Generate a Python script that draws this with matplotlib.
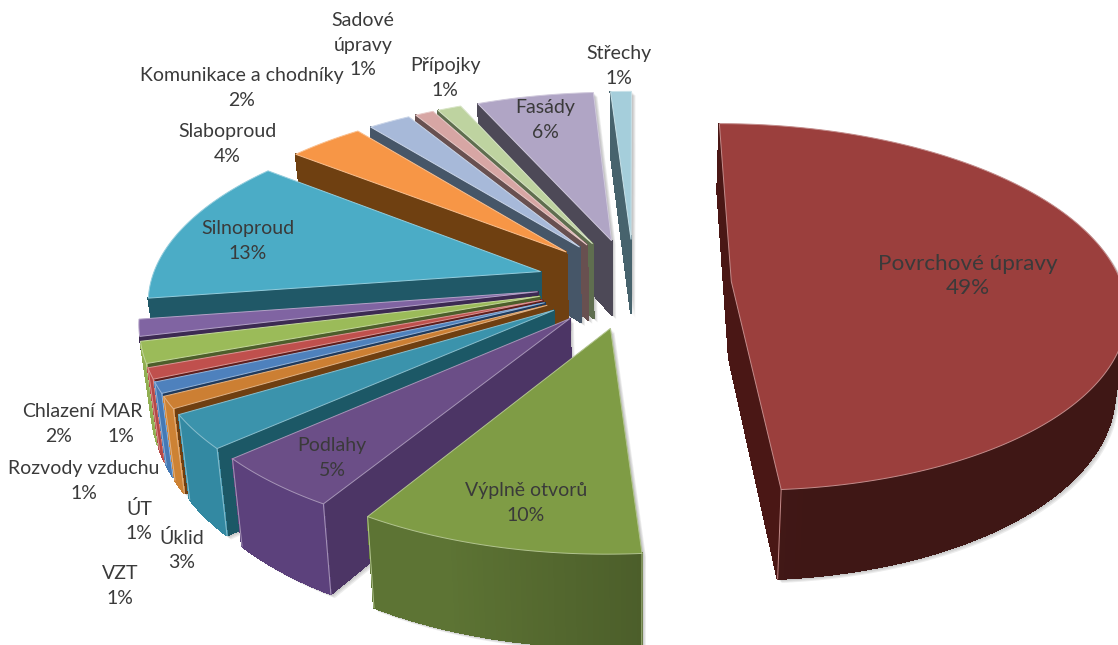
import numpy as np
import matplotlib
matplotlib.use("Agg")
import matplotlib.pyplot as plt
from matplotlib.patches import Polygon
from matplotlib.colors import to_rgb

# Cost shares in percent, clockwise from the top of the pie
names = ["Povrchové úpravy", "Výplně otvorů", "Podlahy", "Úklid", "VZT", "ÚT",
         "Rozvody vzduchu", "Chlazení", "MAR", "Silnoproud", "Slaboproud",
         "Komunikace a chodníky", "Sadové\núpravy", "Přípojky", "Fasády", "Střechy"]
shares = [48.8, 9.9, 4.7, 3.0, 1.05, 0.95, 0.95, 1.85, 1.45, 12.95, 3.65, 2.05, 0.9, 1.15, 5.65, 1.0]

top_colors = ["#9B3F3D", "#7F9C45", "#6B4E87", "#3B93AC", "#CC7F33", "#4E81BD", "#C0504D",
              "#9BBB59", "#8064A2", "#4BACC6", "#F79646", "#A7B9D9", "#D7A6A4", "#BED3A0",
              "#B0A5C5", "#A5CEDB"]
wall_colors = ["#4A1B19", "#566B30", "#553C73", "#2F7F96", "#BE7830", "#4070A8", "#A84340",
               "#86A24C", "#6E5590", "#3B8BA0", "#C87A38", "#8A9AB8", "#B08A88", "#9CAE84",
               "#928AA4", "#88AAB6"]
side_colors = ["#4A1715", "#4A5A28", "#4C3565", "#1C5866", "#6F3F11", "#1F3A5C", "#5F1E1C",
               "#4D5E2B", "#3C2A52", "#205867", "#6F4011", "#465668", "#685050", "#5F6E4F",
               "#4D4957", "#47636D"]

# Projection of the exploded pie
CX, CY = 634.0, 283.0
SCALE, TILT, PERSP = 390.0, 0.462, 0.14
THICK, CONVERGE = 77.0, 0.024
EXPLODE, START_DEG = 0.25, 0.0
MIN_CUT_FACE_AREA = 400.0


def project(x, y, depth=0.0):
    w = 1.0 + PERSP * y
    sx = CX + (SCALE * x / w) * (1.0 - CONVERGE * depth)
    sy = CY - SCALE * TILT * y / w + THICK * depth / w
    return np.column_stack([sx, sy])


def area(p):
    x, y = p[:, 0], p[:, 1]
    return 0.5 * np.sum(x * np.roll(y, -1) - y * np.roll(x, -1))


def shade(color, factor):
    return tuple(np.clip(np.array(to_rgb(color)) * factor, 0, 1))


def tint(color, amount):
    c = np.array(to_rgb(color))
    return tuple(c + (1.0 - c) * amount)


def hull(points):
    pts = sorted(map(tuple, points))
    def half(seq):
        out = []
        for p in seq:
            while len(out) > 1 and ((out[-1][0] - out[-2][0]) * (p[1] - out[-2][1])
                                    - (out[-1][1] - out[-2][1]) * (p[0] - out[-2][0])) <= 0:
                out.pop()
            out.append(p)
        return out[:-1]
    return np.array(half(pts) + half(pts[::-1]))


fig = plt.figure(figsize=(11.18, 6.45), dpi=100)
ax = fig.add_axes([0, 0, 1, 1])
ax.set_xlim(0, 1118)
ax.set_ylim(645, 0)
ax.axis("off")

edges = np.concatenate([[0.0], np.cumsum(shares)]) / np.sum(shares) * 360.0 + START_DEG
slices = []
for i in range(len(shares)):
    a0, a1 = np.radians(edges[i]), np.radians(edges[i + 1])
    mid = 0.5 * (a0 + a1)
    ox, oy = EXPLODE * np.sin(mid), EXPLODE * np.cos(mid)
    th = np.linspace(a0, a1, max(3, int((edges[i + 1] - edges[i]) * 1.5)))
    rx, ry = ox + np.sin(th), oy + np.cos(th)
    slices.append((oy + 0.6 * np.cos(mid), i, ox, oy, th, rx, ry))

for _, i, ox, oy, th, rx, ry in sorted(slices, key=lambda s: -s[0]):
    xs = np.concatenate([[ox], rx])
    ys = np.concatenate([[oy], ry])
    top = project(xs, ys)
    bot = project(xs, ys, 1.0)
    sign = np.sign(area(top))
    n = len(xs)

    # soft drop shadow behind the solid
    outline = hull(np.vstack([top, bot]))
    for off in (1.0, 2.0, 3.0, 4.0):
        ax.add_patch(Polygon(outline + off, closed=True, facecolor="#707070", edgecolor="none",
                             alpha=0.13, zorder=1))

    wall_seen = []
    for j in range(n):
        k = (j + 1) % n
        quad = np.array([top[j], top[k], bot[k], bot[j]])
        if np.sign(area(quad)) == sign:
            continue
        if j == 0 or j == n - 1:
            # cut faces seen almost edge-on would only leave a stray sliver
            if abs(area(quad)) < MIN_CUT_FACE_AREA:
                continue
            col = side_colors[i]
        else:
            deg = np.degrees(th[j - 1])
            col = shade(wall_colors[i], np.clip(1 + (deg - 190) / 120, 0.85, 1.08))
            wall_seen.append(j)
        ax.add_patch(Polygon(quad, closed=True, facecolor=col, edgecolor=col, lw=0.8,
                             antialiased=False, zorder=2))
    # pale seam where the outer wall meets a cut face
    if wall_seen:
        for j in {min(wall_seen), max(wall_seen) + 1}:
            if j in (1, n - 1):
                ax.plot([top[j, 0], bot[j, 0]], [top[j, 1], bot[j, 1]],
                        color=tint(top_colors[i], 0.4), lw=0.7, zorder=2)
    ax.add_patch(Polygon(top, closed=True, facecolor=top_colors[i],
                         edgecolor=tint(top_colors[i], 0.4), lw=0.7, zorder=2))

# Label centres in figure pixels
label_xy = [(968, 276), (526, 503), (332, 458), (182, 550), (120, 586), (139, 521),
            (84, 481), (59, 424), (121, 424), (248, 241), (227, 144), (242, 88),
            (363, 45), (445, 78), (545, 120), (619, 66)]
for i, (name, v, (lx, ly)) in enumerate(zip(names, shares, label_xy)):
    ax.text(lx, ly, f"{name}\n{round(v)}%", ha="center", va="center", family="Lato",
            fontsize=16.2 if i == 0 else 14, color="#3A3A3A",
            linespacing=1.55 if i else 1.3, zorder=5)

fig.savefig("out.png", dpi=100)
